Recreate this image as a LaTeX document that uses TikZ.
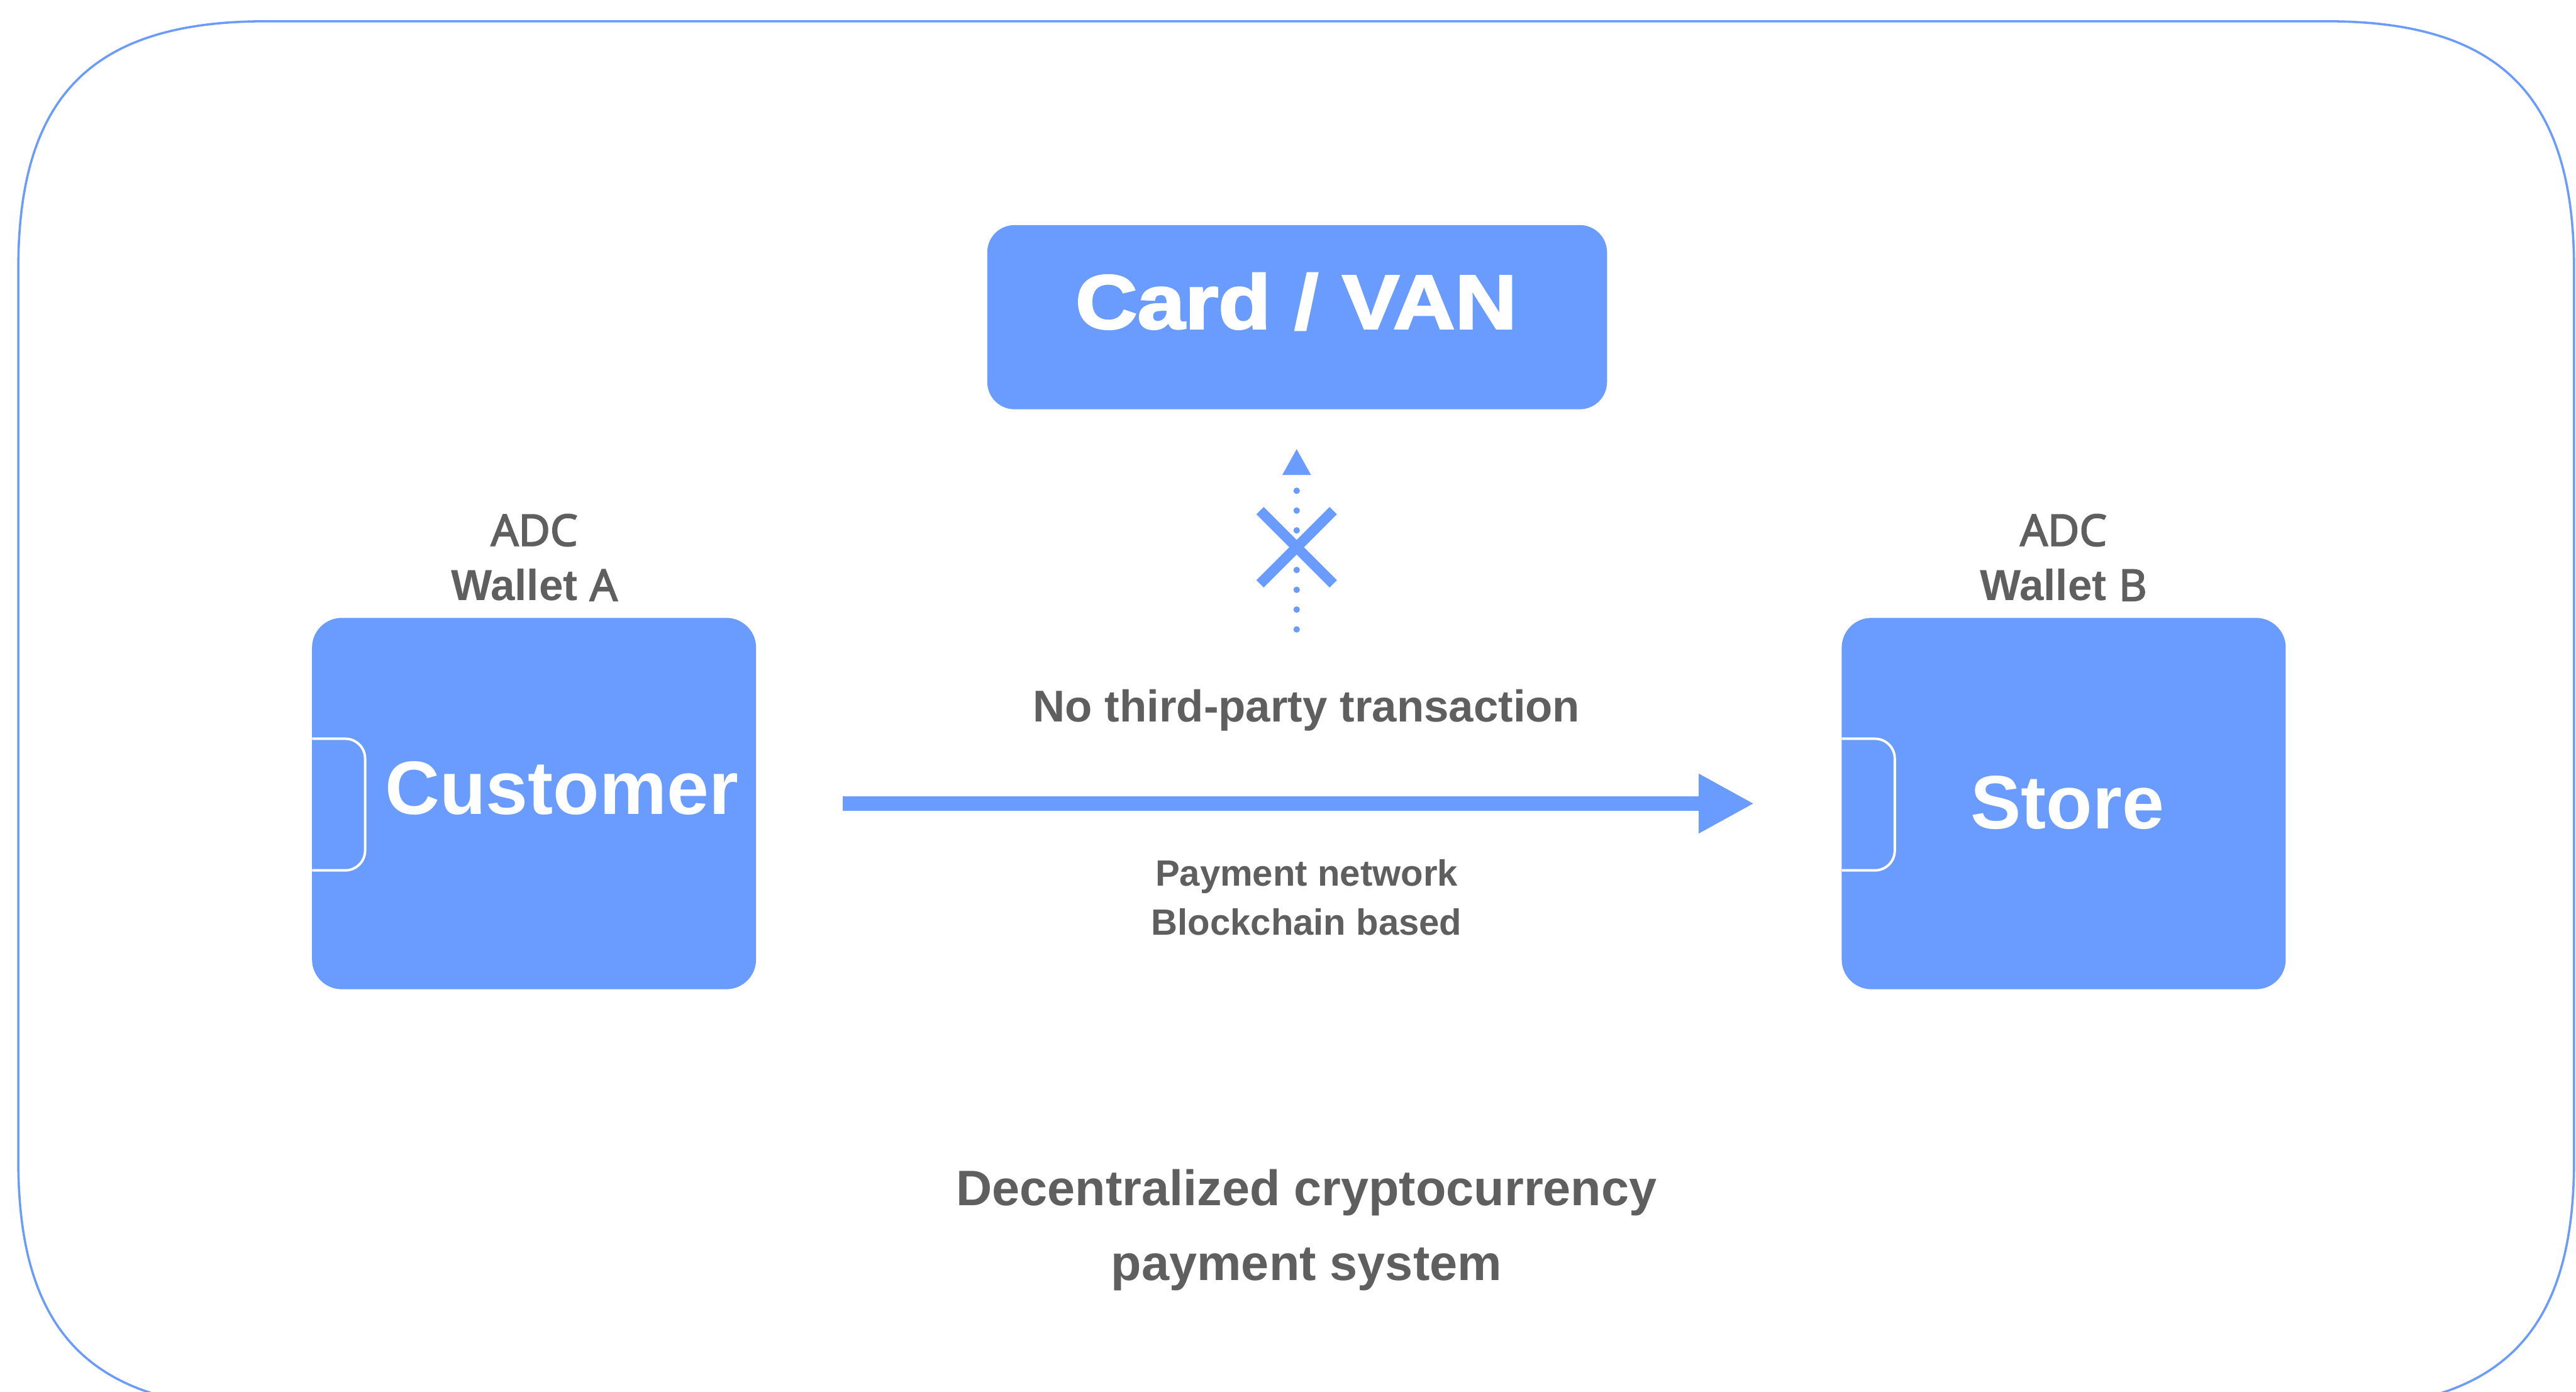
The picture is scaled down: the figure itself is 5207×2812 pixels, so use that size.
\documentclass[tikz,border=0pt]{standalone}
\usepackage{fontspec}
\setmainfont{Liberation Sans}
\newfontfamily\opensemi{Open Sans}[FakeBold=3]
\newfontfamily\heavyfont{Liberation Sans}[BoldFeatures={FakeStretch=1.12,FakeBold=2.5}]
\usetikzlibrary{arrows.meta}

\definecolor{boxblue}{RGB}{106,155,255}
\definecolor{labelgray}{RGB}{95,95,95}

\tikzset{
  frame/.style={draw=boxblue, line width=0.045cm},
  wallet/.style={fill=boxblue, rounded corners=0.6cm, minimum width=8.97cm,
    minimum height=7.5cm, inner sep=0pt},
  card/.style={fill=boxblue, rounded corners=0.55cm, minimum width=12.52cm,
    minimum height=3.72cm, inner sep=0pt},
  tab/.style={draw=white, line width=0.05cm, rounded corners=0.4cm},
  textbase/.style={anchor=base, inner sep=0pt, outer sep=0pt},
  cardtext/.style={textbase, text=white, font=\heavyfont\bfseries\fontsize{44}{50}\selectfont},
  boxtext/.style={textbase, text=white, font=\bfseries\fontsize{43.5}{50}\selectfont},
  adc/.style={textbase, text=labelgray, font=\opensemi\fontsize{25}{30}\selectfont},
  walletname/.style={textbase, text=labelgray, font=\bfseries\fontsize{25}{30}\selectfont},
  midtext/.style={textbase, text=labelgray, font=\bfseries\fontsize{25.6}{30}\selectfont},
  nettext/.style={textbase, text=labelgray, font=\bfseries\fontsize{21}{25}\selectfont},
  titletext/.style={textbase, text=labelgray, font=\bfseries\fontsize{28.65}{34}\selectfont},
  flow/.style={draw=boxblue, line width=0.29cm, shorten <=1.75cm, shorten >=1.76cm,
    -{Triangle[length=1.12cm,width=1.12cm]}},
  blocked/.style={draw=boxblue, line width=0.13cm, line cap=round,
    dash pattern=on 0pt off 0.4cm, shorten >=0.79cm,
    -{Triangle[length=0.53cm,width=0.54cm]}},
  crossbar/.style={draw=boxblue, line width=0.21cm},
}

\begin{document}
\begin{tikzpicture}[x=0.01cm, y=-0.01cm]
\useasboundingbox (0,0) rectangle (5207,2812);
\clip (0,0) rectangle (5207,2812);
\fill[white] (0,0) rectangle (5207,2812);

% outer frame with soft corners
\draw[frame] (537,43) -- (4703,43)
  .. controls (5053,43) and (5203,193) .. (5203,543) -- (5203,2346)
  .. controls (5203,2696) and (5053,2846) .. (4703,2846) -- (537,2846)
  .. controls (187,2846) and (37,2696) .. (37,2346) -- (37,543)
  .. controls (37,193) and (187,43) .. cycle;

% card / VAN server
\node[card] (card) at (2622,641) {};
\node[cardtext] (cardlabel) at (2620,664) {Card / VAN};

% the two wallets
\node[wallet] (customer) at (1079.5,1624) {};
\node[wallet] (store) at (4171.5,1624) {};
\draw[tab] (631,1493) -- (738,1493) -- (738,1759) -- (631,1759);
\draw[tab] (3723,1493) -- (3830,1493) -- (3830,1759) -- (3723,1759);
\node[boxtext] (customerlabel) at (1135.5,1645) {Customer};
\node[boxtext] (storelabel) at (4179,1675) {Store};

\node[adc] (adcA) at (1080,1103) {ADC};
\node[walletname] (walletA) at (1080,1214) {Wallet {\opensemi\mdseries A}};
\node[adc] (adcB) at (4171,1103) {ADC};
\node[walletname] (walletB) at (4171,1214) {Wallet {\opensemi\mdseries B}};

% direct payment
\draw[flow] (customer) -- (store);
\node[midtext] (nothird) at (2641,1459) {No third-party transaction};
\node[nettext] (network) at (2641,1790) {Payment network};
\node[nettext] (chain) at (2641,1890) {Blockchain based};

% blocked route to the card network
\coordinate (blocktail) at (2621,1272);
\draw[blocked] (blocktail) -- (card.south -| blocktail);
\draw[crossbar] (2547,1032) -- (2695,1180);
\draw[crossbar] (2695,1032) -- (2547,1180);

% caption
\node[titletext] (title1) at (2641,2436) {Decentralized cryptocurrency};
\node[titletext] (title2) at (2641,2587) {payment system};
\end{tikzpicture}
\end{document}
